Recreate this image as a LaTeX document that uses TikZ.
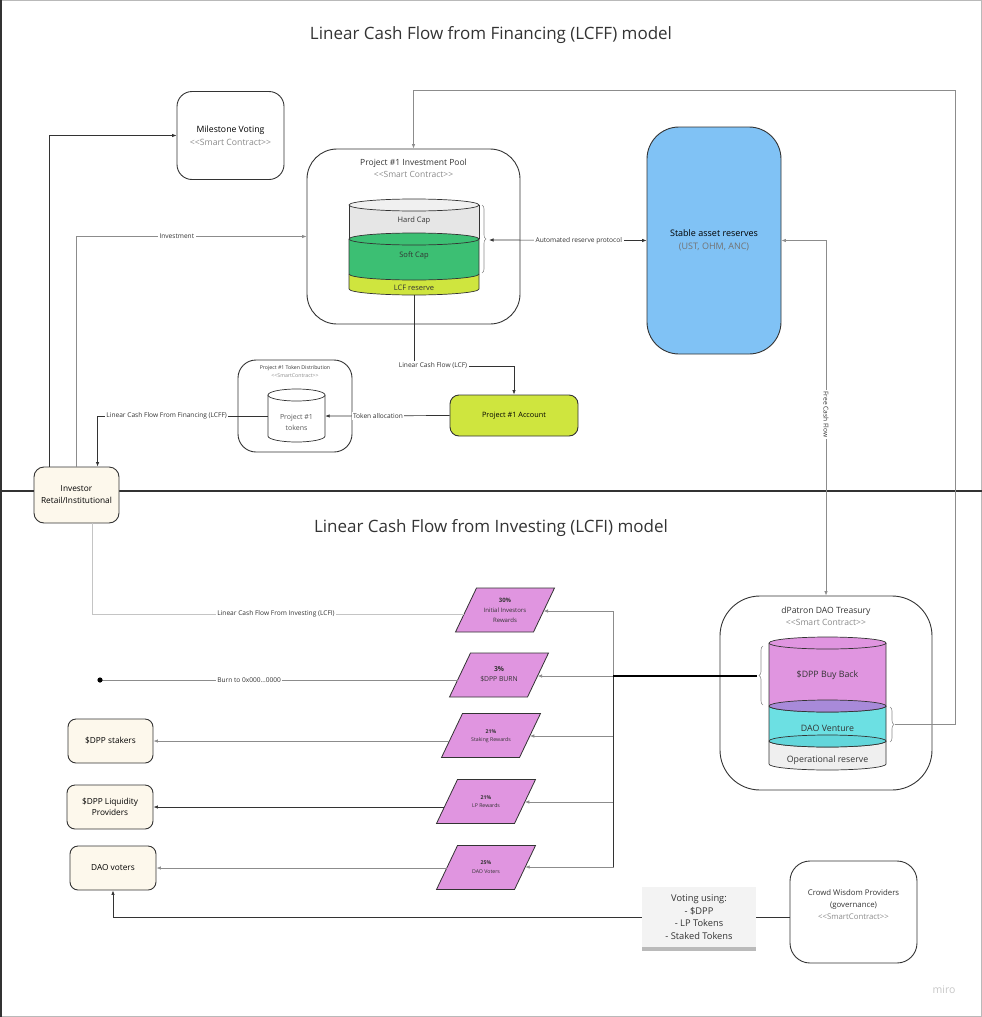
\documentclass[tikz,border=0pt]{standalone}
\usepackage{fontspec}
\setmainfont{Open Sans}
\usetikzlibrary{arrows.meta,decorations.pathreplacing,shadows,calc}
\definecolor{cream}{HTML}{FDF8EC}
\definecolor{lime}{HTML}{CFE53E}
\definecolor{sgreen}{HTML}{3CBF73}
\definecolor{hcgray}{HTML}{E6E6E6}
\definecolor{sblue}{HTML}{80C2F5}
\definecolor{pinkp}{HTML}{E095E0}
\definecolor{purp}{HTML}{A88AD9}
\definecolor{cyanv}{HTML}{6CE0E3}
\definecolor{cyanv2}{HTML}{62D6DB}
\definecolor{opgray}{HTML}{EFEFEF}
\definecolor{edge}{HTML}{333333}
\definecolor{conn}{HTML}{8C8C8C}
\definecolor{connl}{HTML}{C4C4C4}
\definecolor{subtxt}{HTML}{8A8A8A}
\definecolor{notebg}{HTML}{F3F3F3}
\newcommand\fsz[2]{\fontsize{#1pt}{#2pt}\selectfont}
\newcommand\stereo[1]{<\kern0pt<#1>\kern0pt>}
\tikzset{
  box/.style={draw=edge, line width=0.9pt, rounded corners=#1, align=center, inner sep=0pt},
  box/.default=10pt,
  lbl/.style={fill=white, inner sep=1.5pt, font=\fsz{6.6}{7.5}, text=edge},
  arr/.style={-{Latex[length=4.5pt,width=3.5pt]}, line width=0.7pt},
  arrs/.style={{Latex[length=4.5pt,width=3.5pt]}-{Latex[length=4.5pt,width=3.5pt]}, line width=0.7pt},
  cyl/.style={draw=edge, line width=0.7pt},
  para/.style={draw=edge, fill=pinkp, line width=0.8pt},
  brc/.style={decorate, decoration={brace, amplitude=4pt}, draw=conn, line width=0.6pt},
}
\begin{document}
\begin{tikzpicture}[x=1pt,y=-1pt]
\useasboundingbox (0,0) rectangle (982,1017);
% frame and divider
\draw[gray!55, line width=1pt] (0.5,0.5) rectangle (981.5,1016.5);
\draw[edge, line width=1.6pt] (0.8,0) -- (0.8,1017);
\draw[edge, line width=2pt] (0,491) -- (982,491);

% titles
\node[font=\fsz{17}{20}, text=edge] (t1) at (491,35) {Linear Cash Flow from Financing (LCFF) model};
\node[font=\fsz{17}{20}, text=edge] (t2) at (491,528) {Linear Cash Flow from Investing (LCFI) model};

% Milestone voting
\node[box=15pt, minimum width=107pt, minimum height=88pt, font=\fsz{8.7}{12.5}] (mv) at (230.5,135.5) {Milestone Voting\\\textcolor{subtxt}{\stereo{Smart Contract}}};

% Project pool
\node[box=30pt, minimum width=213pt, minimum height=175pt] (pool) at (413.5,236.5) {};
\node[font=\fsz{8.5}{11.5}, align=center, text=edge] (poolt) at (413.5,168.5) {Project \#1 Investment Pool\\\textcolor{subtxt}{\stereo{Smart Contract}}};
% pool cylinder
\path[fill=hcgray] (349,205) -- (349,239) -- (479,239) -- (479,205) -- cycle;
\draw[cyl] (349,205) -- (349,239) (479,205) -- (479,239);
\draw[cyl, fill=hcgray!60] (414,205) ellipse [x radius=65pt, y radius=6pt];
\draw[cyl, fill=lime] (349,274) -- (349,289) arc[start angle=180, end angle=360, x radius=65pt, y radius=6pt] -- (479,274);
\draw[cyl, fill=sgreen] (349,239) -- (349,274) arc[start angle=180, end angle=360, x radius=65pt, y radius=6pt] -- (479,239);
\draw[cyl, fill=sgreen] (414,239) ellipse [x radius=65pt, y radius=6pt];
\node[font=\fsz{7.5}{8}, text=edge] (hc) at (414,221) {Hard Cap};
\node[font=\fsz{7.5}{8}, text=edge] (sc) at (414,256) {Soft Cap};
\node[font=\fsz{7.5}{8}, text=edge] (lcfr) at (414,287.5) {LCF reserve};
\draw[brc] (482,205) -- (482,273);
\coordinate (pbt) at (489,240);
\coordinate (pcb) at (414,295);

% Stable asset reserves
\node[box=32pt, fill=sblue, minimum width=134pt, minimum height=227pt, font=\fsz{9}{12.5}] (sar) at (714,240.5) {Stable asset reserves\\\textcolor{black!55}{(UST, OHM, ANC)}};

% token distribution
\node[box=18pt, minimum width=114pt, minimum height=92pt] (tdist) at (295,406) {};
\node[font=\fsz{5.2}{7.8}, align=center, text=edge] (tdt) at (295,371.5) {Project \#1 Token Distribution\\\textcolor{subtxt}{\stereo{SmartContract}}};
\draw[cyl, fill=white] (268,395) -- (268,436) arc[start angle=180, end angle=360, x radius=28.5pt, y radius=6pt] -- (325,395);
\draw[cyl, fill=white] (296.5,395) ellipse [x radius=28.5pt, y radius=6pt];
\node[inner sep=0pt, minimum width=57pt, minimum height=40pt] (tcyl) at (296.5,416) {};
\node[font=\fsz{7}{11.5}, align=center, text=black!65] (tcylt) at (296.5,422.5) {Project \#1\\tokens};

% project account
\node[box=9pt, fill=lime, minimum width=128pt, minimum height=41pt, font=\fsz{7.3}{8}] (acct) at (514,415.5) {Project \#1 Account};

% investor
\node[box=10pt, fill=cream, minimum width=85pt, minimum height=56pt, font=\fsz{8.3}{12}] (inv) at (76.5,495) {Investor\\Retail/Institutional};

% treasury
\node[box=40pt, minimum width=212pt, minimum height=194pt] (treas) at (826,693) {};
\node[font=\fsz{8.6}{12}, align=center, text=edge] (treast) at (826,616) {dPatron DAO Treasury\\\textcolor{subtxt}{\stereo{Smart Contract}}};
\draw[cyl, fill=opgray] (769,741) -- (769,764) arc[start angle=180, end angle=360, x radius=58.5pt, y radius=6pt] -- (886,741);
\draw[cyl, fill=cyanv] (769,706) -- (769,741) arc[start angle=180, end angle=360, x radius=58.5pt, y radius=6pt] -- (886,706);
\draw[cyl, fill=cyanv2] (827.5,741) ellipse [x radius=58.5pt, y radius=6pt];
\draw[cyl, fill=pinkp] (769,643) -- (769,706) arc[start angle=180, end angle=360, x radius=58.5pt, y radius=6pt] -- (886,643);
\draw[cyl, fill=purp] (827.5,706) ellipse [x radius=58.5pt, y radius=6pt];
\draw[cyl, fill=pinkp] (827.5,643) ellipse [x radius=58.5pt, y radius=6pt];
\node[font=\fsz{8.8}{10}, text=edge] (bb) at (827.5,675) {\$DPP Buy Back};
\node[font=\fsz{8.8}{10}, text=edge] (dv) at (827.5,728) {DAO Venture};
\node[font=\fsz{8.8}{10}, text=edge] (opr) at (827.5,760) {Operational reserve};
\draw[brc] (763,705) -- (763,646);
\draw[brc] (890,707) -- (890,742);
\coordinate (tbt) at (757,676);
\coordinate (vbt) at (895,724.5);

% parallelograms
\path[para] (476.5,588) -- (554.5,588) -- (533.5,632) -- (455.5,632) -- cycle;
\path[para] (470.5,653) -- (548.5,653) -- (527.5,697) -- (449.5,697) -- cycle;
\path[para] (462.5,713.5) -- (540.5,713.5) -- (519.5,757.5) -- (441.5,757.5) -- cycle;
\path[para] (457.5,779.5) -- (535.5,779.5) -- (514.5,823.5) -- (436.5,823.5) -- cycle;
\path[para] (457.5,845.5) -- (535.5,845.5) -- (514.5,889.5) -- (436.5,889.5) -- cycle;
\node[font=\fsz{6}{10}, align=center, text=edge] (p1) at (505,610) {\textbf{30\%}\\Initial Investors\\Rewards};
\node[font=\fsz{6.8}{10}, align=center, text=edge] (p2) at (499,674) {\textbf{3\%}\\\$DPP BURN};
\node[font=\fsz{5.2}{8.5}, align=center, text=edge] (p3) at (491,736) {\textbf{21\%}\\Staking Rewards};
\node[font=\fsz{5.2}{8.5}, align=center, text=edge] (p4) at (486,801.5) {\textbf{21\%}\\LP Rewards};
\node[font=\fsz{5.2}{8.5}, align=center, text=edge] (p5) at (486,867) {\textbf{25\%}\\DAO Voters};
\coordinate (p1r) at (543.5,611); \coordinate (p1l) at (464,614);
\coordinate (p2r) at (537.5,676); \coordinate (p2l) at (457.6,680);
\coordinate (p3r) at (529.8,736); \coordinate (p3l) at (449.4,741);
\coordinate (p4r) at (524.8,802); \coordinate (p4l) at (444.4,807);
\coordinate (p5r) at (525.2,867); \coordinate (p5l) at (446.8,868);

% left boxes
\node[box=8pt, fill=cream, minimum width=85pt, minimum height=44pt, font=\fsz{8.3}{11}] (stakers) at (110.5,741) {\$DPP stakers};
\node[box=8pt, fill=cream, minimum width=86pt, minimum height=44pt, font=\fsz{8.3}{11}] (lp) at (110,807) {\$DPP Liquidity\\Providers};
\node[box=8pt, fill=cream, minimum width=86pt, minimum height=44pt, font=\fsz{8.3}{11}] (voters) at (113,868) {DAO voters};

% note and crowd
\node[fill=notebg, minimum width=114pt, minimum height=60pt, align=center, font=\fsz{9.3}{12.6}, text=edge,
      drop shadow={shadow xshift=0pt, shadow yshift=-4pt, opacity=0.45, fill=black!60}] (note) at (699,917) {Voting using:\\- \$DPP\\- LP Tokens\\- Staked Tokens};
\node[box=20pt, minimum width=127pt, minimum height=102pt] (crowd) at (853.5,912) {};
\node[font=\fsz{7.8}{12}, align=center, text=edge] (crowdt) at (853.5,905) {Crowd Wisdom Providers\\(governance)\\\textcolor{subtxt}{\stereo{SmartContract}}};
\node[font=\fsz{10.5}{12}, text=gray!45] (miro) at (944,990) {miro};

% connectors
\draw[arr, edge] ([xshift=16pt]inv.north west) |- (mv.west);
\draw[arr, conn] (inv.north) |- node[lbl, pos=0.718]{Investment} (pool.west);
\draw[arr, edge] (tcyl.west) -| node[lbl, pos=0.297]{Linear Cash Flow From Financing (LCFF)} ([xshift=64pt]inv.north west);
\draw[arr, edge] (acct.west) -- node[lbl, pos=0.576]{Token allocation} (tcyl.east);
\coordinate (lcfk) at (514,366);
\draw[arr, edge] (pcb) |- node[lbl, pos=0.595]{Linear Cash Flow (LCF)} (lcfk) -- (acct.north);
\draw[arrs, edge] (pbt) -- node[lbl, pos=0.57]{Automated reserve protocol} (sar.west);
\draw[arrs, conn] (sar.east) -| node[lbl, rotate=-90, pos=0.745]{Free Cash Flow} (treas.north);
\coordinate (lpc) at (955,90);
\draw[arr, conn] (vbt) -| (lpc) -| (pool.north);
\draw[connl, line width=0.9pt] ([xshift=59pt]inv.south west) |- node[lbl, pos=0.747]{Linear Cash Flow From Investing (LCFI)} (p1l);
\coordinate (burn) at (100,680);
\draw[conn, line width=0.8pt] (p2l) -- node[lbl, pos=0.583]{Burn to 0x000...0000} (burn);
\fill[black] (burn) circle (2.6pt);
\coordinate (jn) at (613,676);
\draw[arr, conn] (jn) |- (p1r);
\draw[arr, conn] (jn) -- (p2r);
\draw[arr, conn] (jn) |- (p3r);
\draw[arr, conn] (jn) |- (p4r);
\draw[arr, conn] (jn) |- (p5r);
\draw[edge, line width=0.8pt] (jn) -- (jn |- p5r);
\draw[black, line width=1.4pt] (tbt) -- (jn);
\draw[arr, conn] (p3l) -- (stakers.east);
\draw[arr, edge] (p4l) -- (lp.east);
\draw[arr, conn] (p5l) -- (voters.east);
\draw[arr, edge] (note.west) -| (voters.south);
\draw[edge, line width=0.7pt] (note.east) -- (note.east -| crowd.west);
\end{tikzpicture}
\end{document}
